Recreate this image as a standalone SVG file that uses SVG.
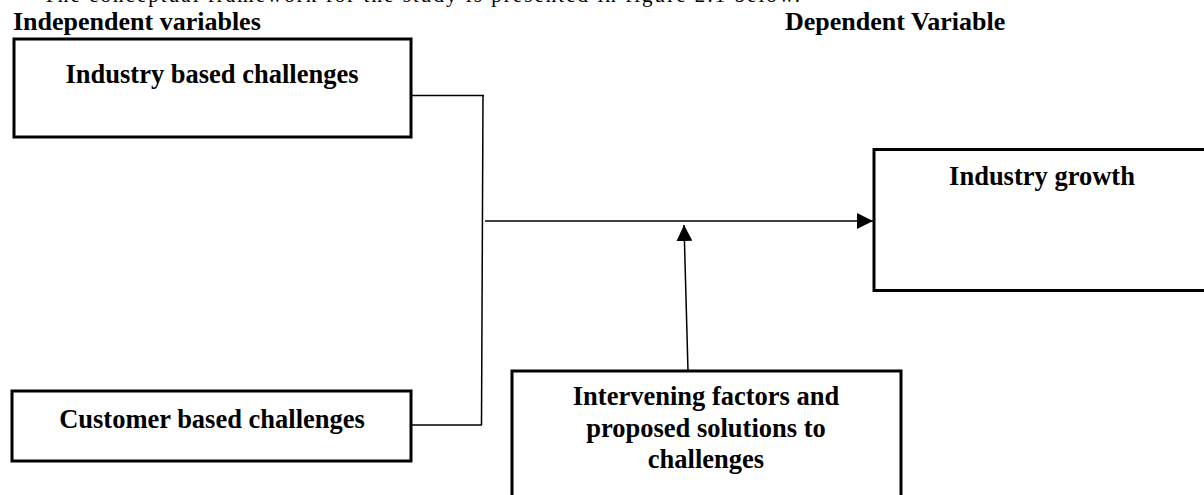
<svg xmlns="http://www.w3.org/2000/svg" width="1204" height="495" viewBox="0 0 1204 495">
  <style>
    .box { fill: #ffffff; stroke: #000000; stroke-width: 3; }
    .lbl { font-family: "Liberation Serif", "Times New Roman", serif; font-weight: bold; font-size: 26.5px; fill: #000000; text-anchor: middle; }
    .hdr { font-family: "Liberation Serif", "Times New Roman", serif; font-weight: bold; font-size: 26px; fill: #000000; }
    .para { font-family: "Liberation Serif", "Times New Roman", serif; font-size: 21px; fill: #000000; }
    .conn { fill: none; stroke: #000000; stroke-width: 1.5; }
  </style>
  <defs>
    <marker id="arrow" viewBox="0 0 10 10" refX="10" refY="5" markerWidth="16" markerHeight="16" markerUnits="userSpaceOnUse" orient="auto">
      <path d="M0,0 L10,5 L0,10 z" fill="#000000"/>
    </marker>
  </defs>
  <rect x="0" y="0" width="1204" height="495" fill="#ffffff"/>

  <text class="para" x="43" y="1.5" textLength="757" lengthAdjust="spacing">The conceptual framework for the study is presented in figure 2.1 below.</text>
  <text class="hdr" x="13" y="30">Independent variables</text>
  <text class="hdr" x="785" y="30">Dependent Variable</text>

  <g id="connectors">
    <line class="conn" x1="412" y1="95.5" x2="484" y2="95.5"/>
    <line class="conn" x1="412" y1="425" x2="482" y2="425"/>
    <line class="conn" x1="483" y1="95" x2="481.5" y2="425"/>
    <line class="conn" x1="485" y1="221" x2="873" y2="221" marker-end="url(#arrow)"/>
    <line class="conn" x1="688" y1="371" x2="684" y2="225" marker-end="url(#arrow)"/>
  </g>

  <g id="industry-based">
    <rect class="box" x="14" y="39" width="397" height="98"/>
    <text class="lbl" x="212" y="83">Industry based challenges</text>
  </g>

  <g id="customer-based">
    <rect class="box" x="12" y="391" width="399" height="70"/>
    <text class="lbl" x="212" y="428">Customer based challenges</text>
  </g>

  <g id="industry-growth">
    <rect class="box" x="874" y="149.5" width="345" height="141"/>
    <text class="lbl" x="1042" y="185">Industry growth</text>
  </g>

  <g id="intervening">
    <rect class="box" x="512" y="371" width="389" height="140"/>
    <text class="lbl" x="706" y="405">Intervening factors and</text>
    <text class="lbl" x="706" y="436.5">proposed solutions to</text>
    <text class="lbl" x="706" y="467.5">challenges</text>
  </g>
</svg>
